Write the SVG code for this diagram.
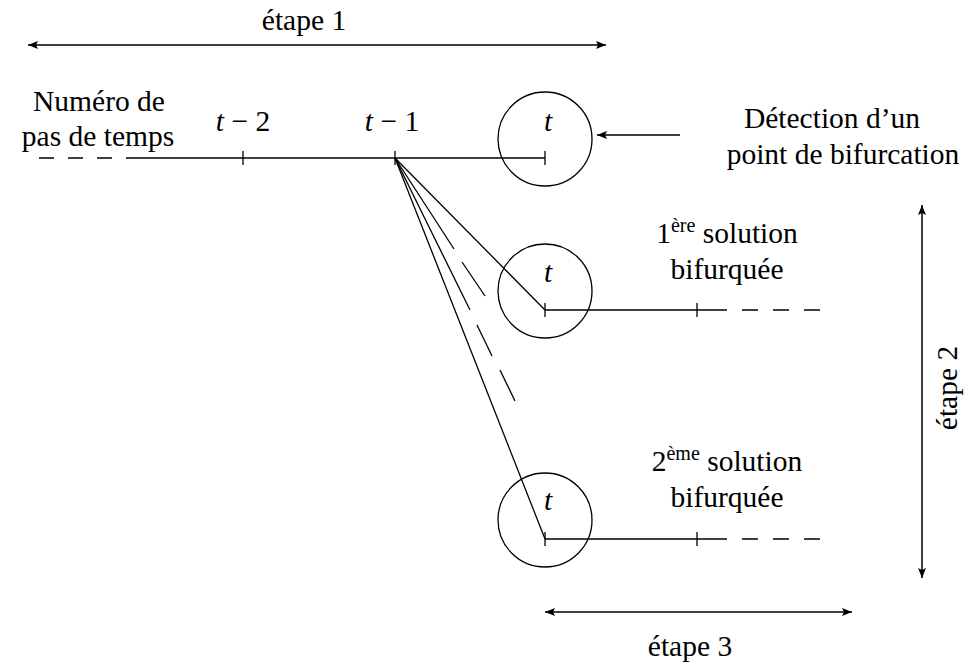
<svg xmlns="http://www.w3.org/2000/svg" width="964" height="667" viewBox="0 0 964 667">
<defs>
<marker id="ah" viewBox="0 0 10 8" refX="10" refY="4" markerWidth="10" markerHeight="8" markerUnits="userSpaceOnUse" orient="auto-start-reverse">
<path d="M0,0 L10,4 L0,8 L2,4 Z" fill="#000"/>
</marker>
<style>
text{font-family:'Liberation Serif','DejaVu Serif',serif;font-size:29.5px;fill:#000;text-anchor:middle}
.it{font-style:italic}
.sup{font-size:20px}
.ln{stroke:#000;stroke-width:1.3;fill:none}
.dim{stroke:#000;stroke-width:1.5;fill:none}
.c{stroke:#000;stroke-width:1.3;fill:none}
</style>
</defs>
<rect width="964" height="667" fill="#fff"/>

<g id="labels">
<text x="304" y="30">étape 1</text>
<text x="99" y="111">Numéro de</text>
<text x="98" y="146">pas de temps</text>
<text x="243" y="131"><tspan class="it">t</tspan> − 2</text>
<text x="392" y="131"><tspan class="it">t</tspan> − 1</text>
<text x="832" y="128">Détection d’un</text>
<text x="843" y="164">point de bifurcation</text>
<text x="727" y="243">1<tspan class="sup" dy="-11">ère</tspan><tspan dy="11"> solution</tspan></text>
<text x="727" y="279">bifurquée</text>
<text x="727" y="471">2<tspan class="sup" dy="-11">ème</tspan><tspan dy="11"> solution</tspan></text>
<text x="727" y="507">bifurquée</text>
<text x="690" y="656">étape 3</text>
<text transform="translate(957,388) rotate(-90)">étape 2</text>
</g>

<g id="node-t0">
<circle class="c" cx="545" cy="139" r="47"/>
<text class="it" x="548" y="131">t</text>
</g>
<g id="node-t1">
<circle class="c" cx="545" cy="291" r="47"/>
<text class="it" x="548" y="282">t</text>
</g>
<g id="node-t2">
<circle class="c" cx="545" cy="520" r="47"/>
<text class="it" x="548" y="510">t</text>
</g>

<g id="connectors">
<line class="dim" x1="28" y1="45" x2="606" y2="45" marker-start="url(#ah)" marker-end="url(#ah)"/>
<line class="dim" x1="922" y1="205" x2="922" y2="578" marker-start="url(#ah)" marker-end="url(#ah)"/>
<line class="dim" x1="545" y1="612" x2="852" y2="612" marker-start="url(#ah)" marker-end="url(#ah)"/>
<line class="dim" x1="680" y1="135" x2="597" y2="135" marker-end="url(#ah)"/>

<line class="ln" x1="39" y1="158" x2="130" y2="158" stroke-dasharray="15 14"/>
<line class="ln" x1="130" y1="158" x2="545" y2="158"/>
<line class="ln" x1="243" y1="151" x2="243" y2="165"/>
<line class="ln" x1="395" y1="151" x2="395" y2="165"/>
<line class="ln" x1="545" y1="151" x2="545" y2="165"/>

<line class="ln" x1="395" y1="158" x2="545" y2="310"/>
<line class="ln" x1="395" y1="158" x2="545" y2="539"/>
<line class="ln" x1="395" y1="158" x2="454" y2="249"/>
<line class="ln" x1="462" y1="262" x2="485" y2="296"/>
<line class="ln" x1="395" y1="158" x2="470" y2="310"/>
<line class="ln" x1="477" y1="325" x2="492" y2="356"/>
<line class="ln" x1="500" y1="370" x2="515" y2="401"/>

<line class="ln" x1="545" y1="310" x2="727" y2="310"/>
<line class="ln" x1="545" y1="303" x2="545" y2="317"/>
<line class="ln" x1="697" y1="303" x2="697" y2="317"/>
<line class="ln" x1="742" y1="310" x2="820" y2="310" stroke-dasharray="16 15"/>

<line class="ln" x1="545" y1="539" x2="727" y2="539"/>
<line class="ln" x1="545" y1="532" x2="545" y2="546"/>
<line class="ln" x1="697" y1="532" x2="697" y2="546"/>
<line class="ln" x1="742" y1="539" x2="820" y2="539" stroke-dasharray="16 15"/>
</g>
</svg>
